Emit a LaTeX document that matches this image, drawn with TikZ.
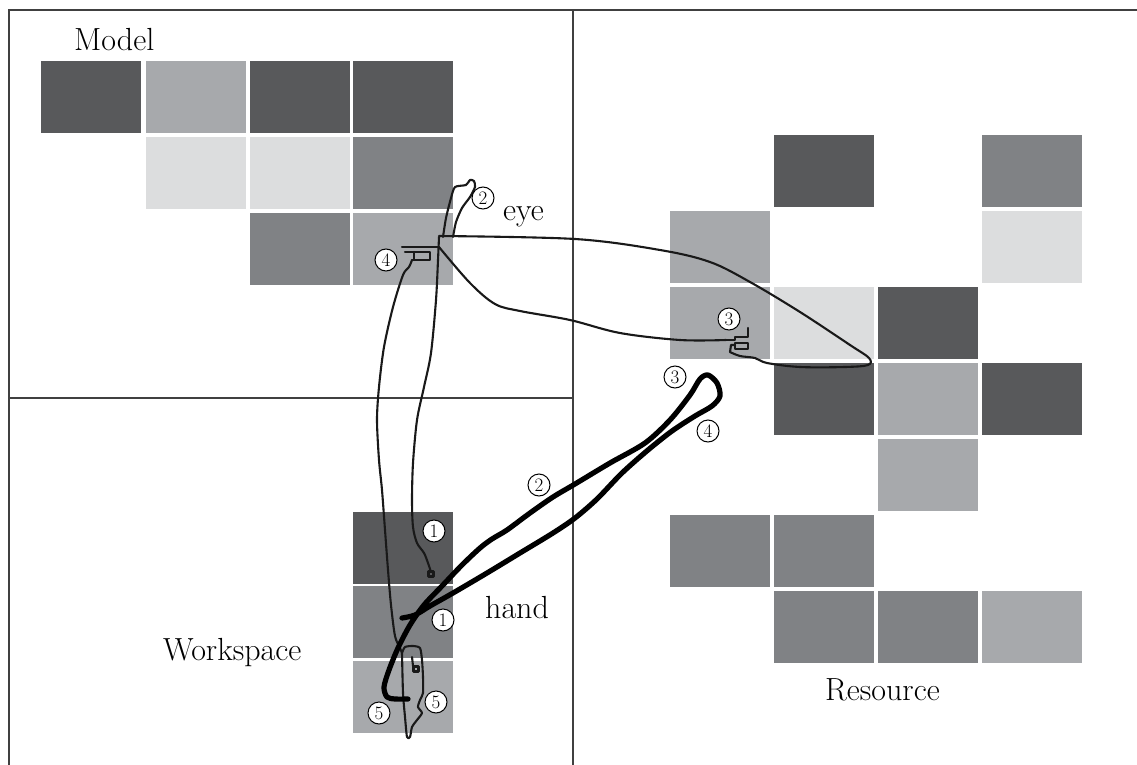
\documentclass[tikz,border=0pt]{standalone}
\definecolor{cdark}{HTML}{58595B}
\definecolor{cmid}{HTML}{808285}
\definecolor{cmlight}{HTML}{A7A9AC}
\definecolor{clight}{HTML}{DCDDDE}
\begin{document}
\begin{tikzpicture}[x=1pt,y=-1pt,
  frame/.style={draw=black!75, line width=1.4pt},
  cell/.style={fill=#1, draw=none, minimum width=100pt, minimum height=72pt, anchor=north west, inner sep=0pt},
  eyepath/.style={draw=black!90, line width=2.1pt, line join=round, line cap=round},
  handpath/.style={draw=black, line width=5.2pt, line join=round, line cap=round},
  tag/.style={circle, draw=black, line width=1pt, fill=white, inner sep=0pt, minimum size=22pt, font=\fontsize{19}{19}\selectfont},
  lbl/.style={anchor=base west, inner sep=0pt, font=\fontsize{32}{38}\selectfont}]
\useasboundingbox (0,0) rectangle (1137,765);

% panel frame
\draw[frame] (1137,10) -- (9,10) -- (9,765);
\draw[frame] (573,10) -- (573,765);
\draw[frame] (9,398) -- (573,398);

% model blocks
\node[cell=cdark]   (m11) at (41,61)  {};
\node[cell=cmlight] (m12) at (146,61) {};
\node[cell=cdark]   (m13) at (250,61) {};
\node[cell=cdark]   (m14) at (353,61) {};
\node[cell=clight]  (m22) at (146,137) {};
\node[cell=clight]  (m23) at (250,137) {};
\node[cell=cmid]    (m24) at (353,137) {};
\node[cell=cmid]    (m33) at (250,213) {};
\node[cell=cmlight] (m34) at (353,213) {};

% resource blocks
\node[cell=cdark]   (r12) at (774,135) {};
\node[cell=cmid]    (r14) at (982,135) {};
\node[cell=cmlight] (r21) at (670,211) {};
\node[cell=clight]  (r24) at (982,211) {};
\node[cell=cmlight] (r31) at (670,287) {};
\node[cell=clight]  (r32) at (774,287) {};
\node[cell=cdark]   (r33) at (878,287) {};
\node[cell=cdark]   (r42) at (774,363) {};
\node[cell=cmlight] (r43) at (878,363) {};
\node[cell=cdark]   (r44) at (982,363) {};
\node[cell=cmlight] (r53) at (878,439) {};
\node[cell=cmid]    (r61) at (670,515) {};
\node[cell=cmid]    (r62) at (774,515) {};
\node[cell=cmid]    (r72) at (774,591) {};
\node[cell=cmid]    (r73) at (878,591) {};
\node[cell=cmlight] (r74) at (982,591) {};

% workspace blocks
\node[cell=cdark]   (w1) at (353,512) {};
\node[cell=cmid]    (w2) at (353,586) {};
\node[cell=cmlight] (w3) at (353,661) {};

% eye movements
\draw[eyepath] plot[smooth, tension=0.5] coordinates {(431,572) (428,563) (424,553) (417,543) (413,527) (412,500) (413,463) (417,420) (424,387) (431,353) (436,300) (438,260) (439,237)};
\draw[eyepath] (428.5,571.5) rectangle (433.5,576.5);
\draw[eyepath] plot[smooth, tension=0.4] coordinates {(443,237) (446,218) (451,198) (455,187) (466,185) (470,180) (474,181) (475,187) (470,197) (462,208) (456,222) (453,237)};
\draw[eyepath] plot[smooth, tension=0.55] coordinates {(439,236) (575,239) (660,250) (710,262) (750,282) (800,312) (850,345) (869,358) (868,365) (845,367) (800,367) (767,363) (755,358) (740,356) (730,352)};
\draw[eyepath] plot[smooth, tension=0.55] coordinates {(726,340) (680,340) (620,333) (570,320) (520,311) (495,304) (470,283) (439,247)};
\draw[eyepath] (726,340) -- (735,340) -- (735,337) -- (748,337) -- (748,328);
\draw[eyepath] (735,343) rectangle (748,349);
\draw[eyepath] (730,352) -- (731,345) -- (735,345);
\draw[eyepath] (402,247) -- (439,247);
\draw[eyepath] (405,252) -- (430,252) -- (430,260) -- (412,260);
\draw[eyepath] (414,252) -- (414,260);
\draw[eyepath] plot[smooth, tension=0.5] coordinates {(412,260) (409,267) (403,275) (393,307) (384,347) (379,387) (377,420) (379,460) (382,490) (385,530) (388,570) (391,605) (395,636) (400,648) (402,653)};
\draw[eyepath] plot[smooth, tension=0.4] coordinates {(402,653) (405,647) (413,646) (420,648) (422,660) (423,677) (423,693) (420,700) (418,707) (422,713) (417,720) (412,727) (410,737) (407,737) (405,717) (403,693) (402,653)};
\draw[eyepath] (412,657) -- (413,666);
\draw[eyepath] (413.5,666.5) rectangle (418.5,671.5);

% hand movement
\draw[handpath] plot[smooth, tension=0.5] coordinates {(402,618) (415,615) (430,606) (453,593) (487,573) (520,553) (553,533) (575,518) (597,499) (622,473) (648,450) (672,431) (695,416) (712,406) (720,396) (717,383) (708,375) (700,379) (690,395) (670,420) (645,443) (610,463) (575,484) (553,497) (530,513) (507,530) (492,539) (480,548) (462,565) (442,586) (424,605) (410,625) (398,648) (389,670) (384,687) (387,697) (395,699) (408,699)};

% step numbers
\node[tag] (t1a) at (434,531) {1};
\node[tag] (t1b) at (443,620) {1};
\node[tag] (t2a) at (483,198) {2};
\node[tag] (t2b) at (539,485) {2};
\node[tag] (t3a) at (729,319) {3};
\node[tag] (t3b) at (675,377) {3};
\node[tag] (t4a) at (386,260) {4};
\node[tag] (t4b) at (708,431) {4};
\node[tag] (t5a) at (379,713) {5};
\node[tag] (t5b) at (436,702) {5};

% labels
\node[lbl] (model) at (74,51) {Model};
\node[lbl] (eye) at (503,220) {eye};
\node[lbl] (hand) at (485,618) {hand};
\node[lbl] (work) at (163,660) {Workspace};
\node[lbl] (res) at (825,700) {Resource};
\end{tikzpicture}
\end{document}
